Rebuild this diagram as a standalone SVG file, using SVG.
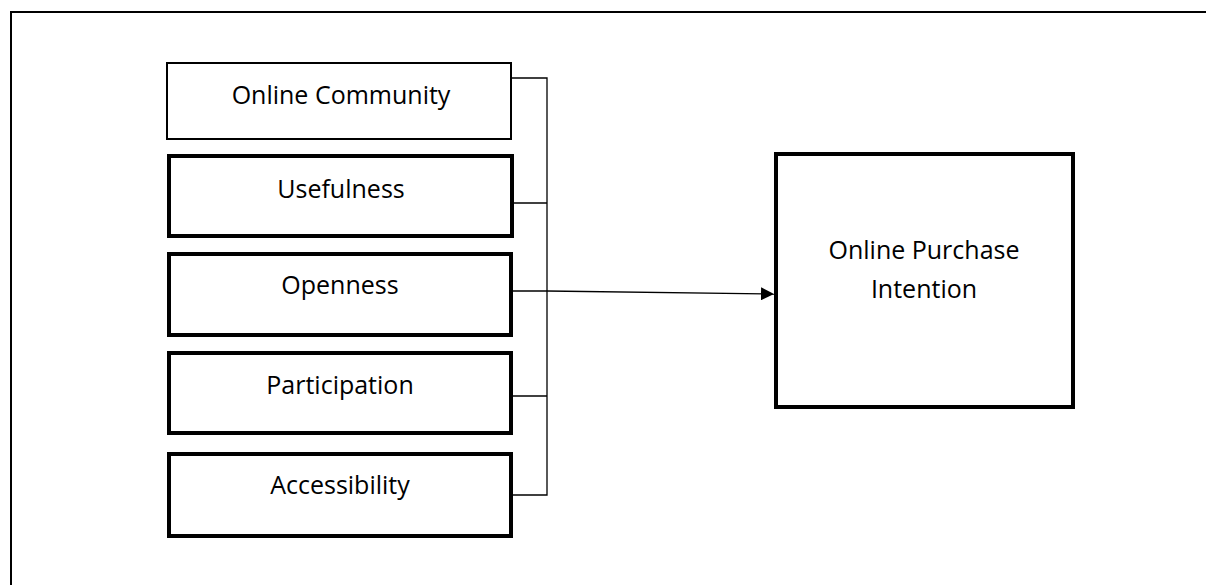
<svg xmlns="http://www.w3.org/2000/svg" width="1206" height="585" viewBox="0 0 1206 585">
  <defs>
    <style>
      .lbl { font-family: "Open Sans", "Liberation Sans", sans-serif; font-size: 25px; fill: #000; text-anchor: middle; }
      .thin { fill: #fff; stroke: #000; stroke-width: 2; }
      .thick { fill: #fff; stroke: #000; stroke-width: 4; }
      .conn { fill: none; stroke: #000; stroke-width: 1.3; }
    </style>
    <marker id="arrow" viewBox="0 0 10 10" refX="10" refY="5" markerWidth="13" markerHeight="13" markerUnits="userSpaceOnUse" orient="auto">
      <path d="M0,0 L10,5 L0,10 Z" fill="#000"/>
    </marker>
  </defs>
  <rect width="1206" height="585" fill="#fff"/>
  <rect x="11" y="12" width="1210" height="600" fill="none" stroke="#000" stroke-width="2"/>
  <g id="connectors">
    <path class="conn" d="M512,78 H547 V495 H512"/>
    <path class="conn" d="M512,203 H547"/>
    <path class="conn" d="M512,291 H547"/>
    <path class="conn" d="M512,396 H547"/>
    <path class="conn" d="M547,291 L774,294" marker-end="url(#arrow)"/>
  </g>
  <g id="node-online-community">
    <rect class="thin" x="167" y="63" width="344" height="76"/>
    <text class="lbl" x="341" y="104">Online Community</text>
  </g>
  <g id="node-usefulness">
    <rect class="thick" x="169" y="156" width="343" height="80"/>
    <text class="lbl" x="341" y="198">Usefulness</text>
  </g>
  <g id="node-openness">
    <rect class="thick" x="169" y="254" width="342" height="81"/>
    <text class="lbl" x="340" y="294">Openness</text>
  </g>
  <g id="node-participation">
    <rect class="thick" x="169" y="353" width="342" height="80"/>
    <text class="lbl" x="340" y="394">Participation</text>
  </g>
  <g id="node-accessibility">
    <rect class="thick" x="169" y="454" width="342" height="82"/>
    <text class="lbl" x="340" y="494">Accessibility</text>
  </g>
  <g id="node-online-purchase-intention">
    <rect class="thick" x="776" y="154" width="297" height="253"/>
    <text class="lbl" x="924" y="259">Online Purchase</text>
    <text class="lbl" x="924" y="298">Intention</text>
  </g>
</svg>
